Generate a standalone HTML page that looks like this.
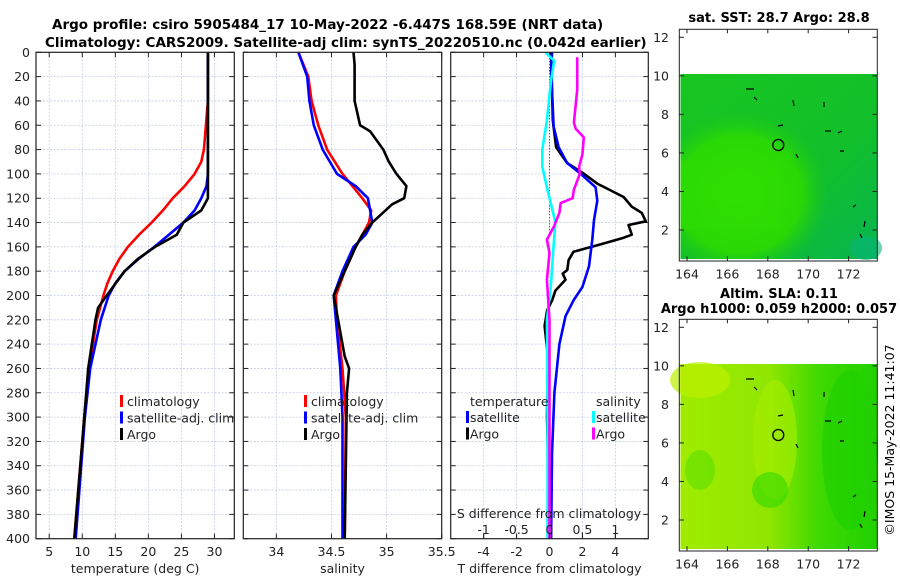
<!DOCTYPE html>
<html><head><meta charset="utf-8"><style>
html,body{margin:0;padding:0;background:#fff;}
svg{display:block;font-family:"DejaVu Sans","Liberation Sans",sans-serif;}
</style></head><body>
<svg id="fig" width="900" height="580" viewBox="0 0 900 580">
<defs>
<radialGradient id="sstLight" cx="0.3" cy="0.65" r="0.45"><stop offset="0" stop-color="#30e000"/><stop offset="0.7" stop-color="#2ad806"/><stop offset="1" stop-color="#1cc918" stop-opacity="0"/></radialGradient>
<linearGradient id="sstBase" x1="0" y1="0" x2="1" y2="1"><stop offset="0" stop-color="#18c620"/><stop offset="0.6" stop-color="#12bf2a"/><stop offset="1" stop-color="#08b650"/></linearGradient>
<linearGradient id="slaBase" x1="0" y1="0" x2="1" y2="0"><stop offset="0" stop-color="#a0ec00"/><stop offset="0.45" stop-color="#90e600"/><stop offset="0.7" stop-color="#40da00"/><stop offset="1" stop-color="#20d000"/></linearGradient>
</defs>
<g font-weight="bold" font-size="13.5" fill="#000">
<text x="52" y="29">Argo profile: csiro 5905484_17 10-May-2022 -6.447S 168.59E (NRT data)</text>
<text x="45" y="47">Climatology: CARS2009. Satellite-adj clim: synTS_20220510.nc (0.042d earlier)</text>
</g>
<g id="panels"></g>
<g>
<text x="779" y="22" text-anchor="middle" font-weight="bold" font-size="13">sat. SST: 28.7 Argo: 28.8</text>
<rect x="680.5" y="74" width="196.5" height="185" fill="url(#sstBase)"/>
<rect x="680.5" y="74" width="196.5" height="185" fill="url(#sstLight)"/>
<rect x="680.5" y="160" width="100" height="70" fill="#2fdc04" opacity="0.55"/>
<ellipse cx="866" cy="248" rx="16" ry="12" fill="#06b47a" opacity="0.6"/>
<ellipse cx="778.3" cy="145" rx="5.5" ry="5.5" fill="none" stroke="#000" stroke-width="1.3"/>
<g stroke="#000" stroke-width="1.2" fill="none"><path d="M746 89h8M754 97l3 3M778 126l5-1M796 154l2 4M825 131h6M838 133l4-2M840 151h4M853 207l3-2M860 234l2 4M865 221l-1 6M793 100l1 6M824 102v5"/></g>
<rect x="679.3" y="29.3" width="198" height="231.7" fill="none" stroke="#222" stroke-width="1"/>
<g id="map1ticks"></g>
</g>
<g>
<text x="779" y="298" text-anchor="middle" font-weight="bold" font-size="13">Altim. SLA: 0.11</text>
<text x="779" y="313" text-anchor="middle" font-weight="bold" font-size="13">Argo h1000: 0.059 h2000: 0.057</text>
<rect x="680.5" y="364" width="196.5" height="185" fill="url(#slaBase)"/>
<ellipse cx="700" cy="380" rx="30" ry="18" fill="#bcf000" opacity="0.7"/>
<ellipse cx="775" cy="440" rx="22" ry="60" fill="#a8ee00" opacity="0.6"/>
<ellipse cx="770" cy="490" rx="18" ry="18" fill="#30d800" opacity="0.6"/>
<ellipse cx="700" cy="470" rx="15" ry="20" fill="#50dc00" opacity="0.5"/>
<ellipse cx="850" cy="450" rx="28" ry="80" fill="#20d000" opacity="0.7"/>
<ellipse cx="778.3" cy="435" rx="5.5" ry="5.5" fill="none" stroke="#000" stroke-width="1.3"/>
<g stroke="#000" stroke-width="1.2" fill="none"><path d="M746 379h8M754 387l3 3M778 416l5-1M796 444l2 4M825 421h6M838 423l4-2M840 441h4M853 497l3-2M860 524l2 4M865 511l-1 6M793 390l1 6M824 392v5"/></g>
<rect x="679.3" y="319.3" width="198" height="231.7" fill="none" stroke="#222" stroke-width="1"/>
<g id="map2ticks"></g>
</g>
<text transform="translate(894,440) rotate(-90)" text-anchor="middle" font-size="12.5">©IMOS 15-May-2022 11:41:07</text>
</svg>
<script>
const tClimDepth = [0, 40, 80, 90, 100, 110, 120, 130, 140, 150, 160, 170, 180, 190, 200, 220, 260, 300, 400];
const tClim      = [29, 29, 28.4, 28, 27, 25.5, 23.7, 22.2, 20.5, 18.6, 16.9, 15.6, 14.6, 13.8, 13.2, 12.2, 11, 10.3, 8.8];
const tSatDepth  = [0, 100, 110, 120, 130, 140, 150, 160, 170, 180, 190, 200, 220, 260, 300, 400];
const tSat       = [29, 29, 28.8, 28, 27, 25.3, 23.1, 20.9, 18.5, 16.4, 15, 14, 12.8, 11.2, 10.4, 9.0];
const tArgoDepth = [0, 120, 130, 140, 150, 160, 170, 180, 200, 210, 220, 260, 300, 400];
const tArgo      = [29, 29, 28, 25.3, 24.3, 21, 18.4, 16.4, 13.7, 12.4, 12.0, 10.9, 10.3, 8.8];

const sClimDepth = [0, 20, 40, 60, 80, 100, 120, 130, 140, 160, 180, 200, 220, 260, 300, 400];
const sClim      = [34.2, 34.29, 34.32, 34.38, 34.46, 34.6, 34.78, 34.86, 34.84, 34.72, 34.62, 34.54, 34.55, 34.6, 34.63, 34.62];
const sSatDepth  = [0, 20, 40, 60, 80, 100, 110, 120, 140, 150, 160, 180, 200, 220, 260, 300, 400];
const sSat       = [34.2, 34.28, 34.3, 34.34, 34.42, 34.55, 34.72, 34.83, 34.87, 34.81, 34.7, 34.6, 34.52, 34.54, 34.58, 34.6, 34.6];
const sArgoDepth = [0, 10, 40, 60, 65, 80, 90, 100, 110, 120, 125, 130, 140, 150, 160, 180, 200, 220, 250, 260, 280, 400];
const sArgo      = [34.7, 34.71, 34.71, 34.76, 34.85, 34.97, 35.02, 35.09, 35.18, 35.16, 35.05, 34.99, 34.87, 34.78, 34.72, 34.62, 34.52, 34.56, 34.62, 34.66, 34.64, 34.62];

const dTSatDepth  = [0, 15, 61, 78, 91, 100, 111, 122, 138, 154, 176, 193, 204, 217, 240, 280, 330, 400];
const dTSat       = [0.16, 0.1, 0.25, 0.55, 1.07, 1.9, 2.8, 2.9, 2.7, 2.6, 2.4, 2.0, 1.46, 0.97, 0.6, 0.3, 0.15, 0.1];
const dTArgoDepth = [0, 56, 78, 91, 100, 108, 119, 127, 132, 139, 142, 150, 153, 158, 164, 171, 179, 182, 187, 196, 204, 212, 225, 250, 300, 330, 400];
const dTArgo      = [0.1, 0.2, 0.4, 1.07, 2.1, 2.9, 4.5, 5.0, 5.6, 5.85, 4.8, 5.0, 4.4, 3.1, 1.46, 1.16, 1.08, 0.8, 0.97, 0.36, 0.16, -0.14, -0.3, -0.1, -0.15, -0.1, 0.0];
const dSSatDepth  = [0, 7, 25, 56, 80, 94, 111, 140, 160, 193, 220, 300, 400];
const dSSat       = [-0.06, 0.07, 0.02, -0.04, -0.11, -0.11, -0.04, 0.09, 0.06, 0.02, -0.04, -0.03, -0.03];
const dSArgoDepth = [4, 31, 58, 63, 70, 84, 94, 100, 113, 120, 124, 132, 143, 154, 165, 187, 220, 300, 400];
const dSArgo      = [0.42, 0.42, 0.37, 0.4, 0.52, 0.5, 0.45, 0.46, 0.37, 0.35, 0.17, 0.15, 0.07, -0.04, 0.0, -0.04, 0.0, 0.0, 0.0];

const depthTicks = [0,20,40,60,80,100,120,140,160,180,200,220,240,260,280,300,320,340,360,380,400];
const tTicks = [5,10,15,20,25,30];
const sTicks = [34,34.5,35,35.5];
const dTTicks = [-4,-2,0,2,4];
const dSTicks = [-1,-0.5,0,0.5,1];
const lonTicks = [164,166,168,170,172];
const latTicks = [2,4,6,8,10,12];

const NS='http://www.w3.org/2000/svg';
function mk(tag, attrs, parent){const e=document.createElementNS(NS,tag);for(const k in attrs)e.setAttribute(k,attrs[k]);parent.appendChild(e);return e;}
const root=document.getElementById('panels');
const Y0=52.3, Y1=538.7;
const yScale=d=>Y0+(d/400)*(Y1-Y0);

function panel(name,x0,x1,xmin,xmax,ticks,label,showY){
  const g=mk('g',{},root);
  
  
  const xs=v=>x0+(v-xmin)/(xmax-xmin)*(x1-x0);
  const grid=mk('g',{stroke:'#c4cce6','stroke-width':0.8,'stroke-dasharray':'2,1.5'},g);
  depthTicks.forEach(d=>{mk('line',{x1:x0,x2:x1,y1:yScale(d),y2:yScale(d)},grid);});
  ticks.forEach(v=>{mk('line',{x1:xs(v),x2:xs(v),y1:Y0,y2:Y1},grid);});
  const tk=mk('g',{stroke:'#222','stroke-width':1},g);
  depthTicks.forEach(d=>{const y=yScale(d);mk('line',{x1:x0,x2:x0+5,y1:y,y2:y},tk);mk('line',{x1:x1-5,x2:x1,y1:y,y2:y},tk);});
  ticks.forEach(v=>{mk('line',{x1:xs(v),x2:xs(v),y1:Y1,y2:Y1-5},tk);mk('line',{x1:xs(v),x2:xs(v),y1:Y0,y2:Y0+5},tk);});
  const tl=mk('g',{'font-size':12.5,fill:'#222','text-anchor':'middle'},g);
  ticks.forEach(v=>{const t=mk('text',{x:xs(v),y:556},tl);t.textContent=String(v);});
  if(showY){const yl=mk('g',{'font-size':12.5,fill:'#222','text-anchor':'end'},g);
    depthTicks.forEach(d=>{const t=mk('text',{x:30,y:yScale(d)+4.5},yl);t.textContent=String(d);});}
  const xl=mk('text',{x:(x0+x1)/2,y:573,'text-anchor':'middle','font-size':12.5,fill:'#222'},g);
  xl.textContent=label;
  return {g,xs};
}
function line(p,name,xsF,vals,depths,color,w){
  const pts=vals.map((v,i)=>xsF(v).toFixed(1)+','+yScale(depths[i]).toFixed(1)).join(' ');
  const l=mk('polyline',{points:pts,fill:'none',stroke:color,'stroke-width':w||2.6,'stroke-linejoin':'round'},p.g);
  
  
}
function frame(p,x0,x1){mk('rect',{x:x0,y:Y0,width:x1-x0,height:Y1-Y0,fill:'none',stroke:'#222','stroke-width':1.2},p.g);}
function legend(p,x,items){
  items.forEach((it,i)=>{const y=401+i*16.5;
    mk('rect',{x:x,y:y-6,width:3,height:12,fill:it[1]},p.g);
    const t=mk('text',{x:x+7,y:y+5,'font-size':12.5,fill:'#222'},p.g);
    
    
    t.textContent=it[0];});
}

const p1=panel('temperature-panel',36,234.3,3,33,tTicks,'temperature (deg C)',true);
line(p1,'temp-climatology-line',p1.xs,tClim,tClimDepth,'#ff0000');
line(p1,'temp-satellite-line',p1.xs,tSat,tSatDepth,'#0000ff');
line(p1,'temp-argo-line',p1.xs,tArgo,tArgoDepth,'#000000');
frame(p1,36,234.3);
legend(p1,120,[['climatology','#ff0000'],['satellite-adj. clim','#0000ff'],['Argo','#000']]);

const p2=panel('salinity-panel',243.3,441.7,33.7,35.5,sTicks,'salinity',false);
line(p2,'sal-climatology-line',p2.xs,sClim,sClimDepth,'#ff0000');
line(p2,'sal-satellite-line',p2.xs,sSat,sSatDepth,'#0000ff');
line(p2,'sal-argo-line',p2.xs,sArgo,sArgoDepth,'#000000');
frame(p2,243.3,441.7);
legend(p2,304,[['climatology','#ff0000'],['satellite-adj. clim','#0000ff'],['Argo','#000']]);

const p3=panel('difference-panel',450.7,648.3,-6,6,dTTicks,'T difference from climatology',false);
const sx3=v=>450.7+(v+1.5)/3*(648.3-450.7);
mk('line',{x1:p3.xs(0),x2:p3.xs(0),y1:Y0,y2:yScale(150),stroke:'#333','stroke-width':1,'stroke-dasharray':'1,2'},p3.g);
line(p3,'dT-argo-line',p3.xs,dTArgo,dTArgoDepth,'#000000');
line(p3,'dT-satellite-line',p3.xs,dTSat,dTSatDepth,'#0000ff');
line(p3,'dS-satellite-line',sx3,dSSat,dSSatDepth,'#00ffff');
line(p3,'dS-argo-line',sx3,dSArgo,dSArgoDepth,'#ff00ff');
frame(p3,450.7,648.3);
const hd=mk('text',{x:470,y:406,'font-size':12.5,fill:'#222'},p3.g);hd.textContent='temperature';
const hs=mk('text',{x:596,y:406,'font-size':12.5,fill:'#222'},p3.g);hs.textContent='salinity';
[['satellite','#0000ff',466,0],['Argo','#000',466,1],['satellite','#00ffff',592,0],['Argo','#ff00ff',592,1]].forEach(it=>{
  const y=417+it[3]*16.5;
  mk('rect',{x:it[2],y:y-6,width:3,height:12,fill:it[1]},p3.g);
  const t=mk('text',{x:it[2]+4,y:y+5,'font-size':12.5,fill:'#222'},p3.g);
  
  
  t.textContent=it[0];
});
const st=mk('text',{x:549,y:518,'font-size':12.5,fill:'#222','text-anchor':'middle'},p3.g);


st.textContent='S difference from climatology';
dSTicks.forEach(v=>{const t=mk('text',{x:sx3(v),y:534,'font-size':12.5,fill:'#222','text-anchor':'middle'},p3.g);t.textContent=String(v);
  mk('line',{x1:sx3(v),x2:sx3(v),y1:Y1,y2:Y1-5,stroke:'#222'},p3.g);});

function mapTicks(id,top){
  const g=document.getElementById(id);
  const lx=v=>687+(v-164)*20.2;
  const ly=v=>top+8+(12-v)*19.27;
  lonTicks.forEach(v=>{mk('line',{x1:lx(v),x2:lx(v),y1:top+231.7,y2:top+227,stroke:'#222'},g);
    mk('line',{x1:lx(v),x2:lx(v),y1:top,y2:top+4,stroke:'#222'},g);
    const t=mk('text',{x:lx(v),y:top+249,'font-size':12.5,fill:'#222','text-anchor':'middle'},g);t.textContent=String(v);});
  latTicks.forEach(v=>{mk('line',{x1:679.3,x2:684,y1:ly(v),y2:ly(v),stroke:'#222'},g);
    mk('line',{x1:872.5,x2:877.3,y1:ly(v),y2:ly(v),stroke:'#222'},g);
    const t=mk('text',{x:669,y:ly(v)+4.5,'font-size':12.5,fill:'#222','text-anchor':'end'},g);t.textContent=String(v);});
}
mapTicks('map1ticks',29.3);
mapTicks('map2ticks',319.3);
</script>
</body></html>
